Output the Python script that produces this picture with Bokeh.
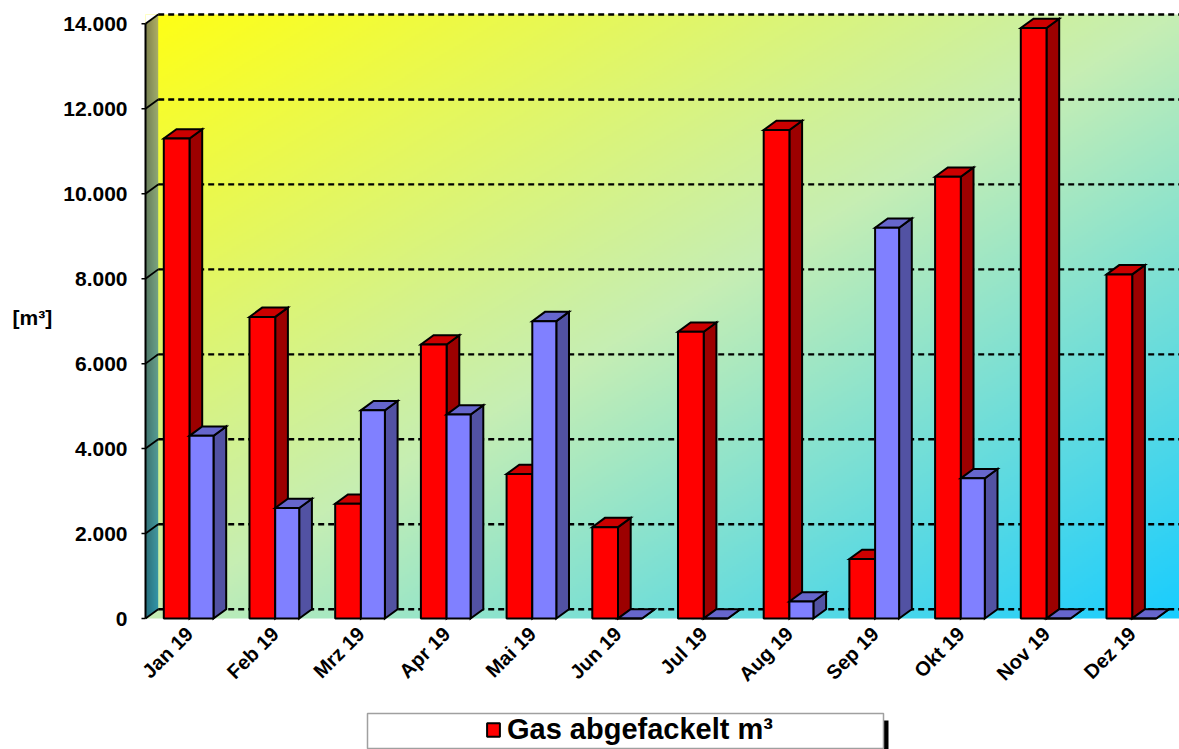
import numpy as np
from bokeh.plotting import figure
from bokeh.models import Range1d, Legend, LegendItem
from bokeh.core.properties import value
from bokeh.embed import file_html
from bokeh.resources import INLINE

# ---- data -------------------------------------------------------------
months = ["Jan 19", "Feb 19", "Mrz 19", "Apr 19", "Mai 19", "Jun 19",
          "Jul 19", "Aug 19", "Sep 19", "Okt 19", "Nov 19", "Dez 19"]
gas_flared = [11300, 7100, 2700, 6450, 3400, 2150, 6750, 11500, 1400, 10400, 13900, 8100]
gas_second = [4300, 2600, 4900, 4800, 7000, 0, 0, 400, 9200, 3300, 0, 0]
y_ticks = [0, 2000, 4000, 6000, 8000, 10000, 12000, 14000]
y_tick_labels = ["0", "2.000", "4.000", "6.000", "8.000", "10.000", "12.000", "14.000"]
legend_label = "Gas abgefackelt m³"
unit_label = "[m³]"

# ---- layout geometry (screen pixels -> data units) ----------------------
W, H = 1179, 749
AXIS_PX = 145                    # screen column of the value axis
PX_PER_CAT = 85.7                # horizontal pixels per month
PX_PER_UNIT = 594.7 / 14000.0    # vertical pixels per m³
ZERO_PY = 618                    # screen row of the value 0 on the front plane
FIRST_CENTER_PX = 189            # screen column of the first month's centre

X_AXIS = 0.5 - (FIRST_CENTER_PX - AXIS_PX) / PX_PER_CAT


def sx(px):
    return X_AXIS + (px - AXIS_PX) / PX_PER_CAT


def sy(py):
    return (ZERO_PY - py) / PX_PER_UNIT


X_START, X_END = sx(0), sx(W)
Y_START, Y_END = sy(H), sy(0)
DX = 12.7 / PX_PER_CAT           # 3D depth offset, x
DY = 9.3 / PX_PER_UNIT           # 3D depth offset, y
Y_TOP = max(y_ticks)

FONT = "Liberation Sans"

p = figure(width=W, height=H, x_range=Range1d(X_START, X_END), y_range=Range1d(Y_START, Y_END),
           output_backend="svg", toolbar_location=None,
           x_axis_location=None, y_axis_location=None,
           min_border_left=0, min_border_right=0, min_border_top=0, min_border_bottom=0)
p.outline_line_color = None
p.grid.visible = False
p.background_fill_color = "white"
p.border_fill_color = "white"

# ---- back wall + floor gradient ----------------------------------------
nx, ny = 520, 304
u = np.linspace(0, 1, nx)[None, :]
v = 1.0 - np.linspace(0, 1, ny)[:, None]   # 0 at top, 1 at bottom
t = (u + v) / 2.0
c_a = np.array([255, 255, 20.0])
c_b = np.array([198, 238, 180.0])
c_c = np.array([25, 205, 255.0])
t1 = np.clip(t / 0.5, 0, 1)[..., None]
t2 = np.clip((t - 0.5) / 0.5, 0, 1)[..., None]
col = np.where((t < 0.5)[..., None], c_a + (c_b - c_a) * t1, c_b + (c_c - c_b) * t2)
img = np.empty((ny, nx), dtype=np.uint32)
view = img.view(dtype=np.uint8).reshape((ny, nx, 4))
view[..., 0] = col[..., 0].astype(np.uint8)
view[..., 1] = col[..., 1].astype(np.uint8)
view[..., 2] = col[..., 2].astype(np.uint8)
view[..., 3] = 255
p.image_rgba(image=[img], x=X_AXIS, y=0, dw=X_END - X_AXIS, dh=Y_TOP + DY)

# ---- left side wall ------------------------------------------------------
sw_nx, sw_ny = 26, 620
su = (np.arange(sw_nx) + 0.5) / sw_nx
syv = (np.arange(sw_ny) + 0.5) / sw_ny * (Y_TOP + DY)
UU, YY = np.meshgrid(su, syv)
bottom_edge = UU * DY
top_edge = Y_TOP + UU * DY
vert = np.clip(YY / Y_TOP, 0, 1)
w_top = np.array([165, 165, 95.0])
w_bot = np.array([45, 140, 160.0])
wcol = w_bot[None, None, :] + (w_top - w_bot)[None, None, :] * vert[..., None]
wcol = wcol * (0.78 + 0.3 * UU)[..., None]
wcol = np.clip(wcol, 0, 255)
simg = np.empty((sw_ny, sw_nx), dtype=np.uint32)
sview = simg.view(dtype=np.uint8).reshape((sw_ny, sw_nx, 4))
sview[..., 0] = wcol[..., 0].astype(np.uint8)
sview[..., 1] = wcol[..., 1].astype(np.uint8)
sview[..., 2] = wcol[..., 2].astype(np.uint8)
sview[..., 3] = 255
sview[YY > top_edge] = [255, 255, 255, 255]
sview[YY < bottom_edge] = [0, 0, 0, 0]
p.image_rgba(image=[simg], x=X_AXIS, y=0, dw=DX, dh=Y_TOP + DY)

# ---- gridlines -----------------------------------------------------------
gy = np.array(y_ticks, dtype=float)
n_t = len(gy)
p.segment(x0=[X_AXIS + DX] * n_t, y0=gy + DY, x1=[X_END] * n_t, y1=gy + DY,
          line_color="black", line_width=2.4, line_dash="6 4")
p.segment(x0=[X_AXIS] * n_t, y0=gy, x1=[X_AXIS + DX] * n_t, y1=gy + DY,
          line_color="black", line_width=1.8)

# ---- value axis ------------------------------------------------------------
TICK = 4 / PX_PER_CAT
p.segment(x0=[X_AXIS], y0=[0], x1=[X_AXIS], y1=[Y_TOP], line_color="black", line_width=2)
p.segment(x0=[X_AXIS - TICK] * n_t, y0=gy, x1=[X_AXIS] * n_t, y1=gy,
          line_color="black", line_width=1.5)
p.text(x=[X_AXIS - 18 / PX_PER_CAT] * n_t, y=gy, text=y_tick_labels,
       text_align="right", text_baseline="middle", text_font=value(FONT),
       text_font_style="bold", text_font_size="21px", text_color="black")
p.text(x=[sx(12)], y=[sy(317)], text=[unit_label], text_align="left",
       text_baseline="middle", text_font=value(FONT), text_font_style="bold",
       text_font_size="21px", text_color="black")

# ---- 3D bars ---------------------------------------------------------------
centers = np.arange(len(months)) + 0.5
RED_W = 0.30
BLUE_W = 0.28
OUT_W = 2


def bar3d(left, right, vals, front, top, side):
    vals = np.asarray(vals, dtype=float)
    side_xs = [[r, r + DX, r + DX, r] for r in right]
    side_ys = [[0, DY, h + DY, h] for h in vals]
    p.patches(side_xs, side_ys, fill_color=side, line_color="black", line_width=OUT_W,
              line_join="miter")
    top_xs = [[l, r, r + DX, l + DX] for l, r in zip(left, right)]
    top_ys = [[h, h, h + DY, h + DY] for h in vals]
    p.patches(top_xs, top_ys, fill_color=top, line_color="black", line_width=OUT_W,
              line_join="miter")
    return p.quad(left=left, right=right, bottom=0, top=vals,
                  fill_color=front, line_color="black", line_width=OUT_W)


red_front = bar3d(centers - RED_W, centers, gas_flared, "#FF0000", "#CC0000", "#9C0000")
bar3d(centers, centers + BLUE_W, gas_second, "#8080FF", "#6666CC", "#5252A3")

# ---- month labels ----------------------------------------------------------
p.text(x=centers, y=[sy(630)] * len(months), text=months, angle=np.pi / 4,
       text_align="right", text_baseline="middle", text_font=value(FONT),
       text_font_style="bold", text_font_size="20px", text_color="black")

# ---- legend ----------------------------------------------------------------
p.quad(left=[sx(883)], right=[sx(888)], bottom=[sy(749)], top=[sy(720)],
       fill_color="black", line_color=None)
p.quad(left=[sx(367)], right=[sx(883)], bottom=[sy(748)], top=[sy(713)],
       fill_color="white", line_color="#A0A0A0", line_width=1.5)
legend = Legend(items=[LegendItem(label=legend_label, renderers=[red_front])],
                location=(485, 3), padding=0, margin=0, spacing=0,
                border_line_color=None, background_fill_alpha=0,
                glyph_width=16, glyph_height=17, label_standoff=6, label_height=30,
                label_text_font=FONT, label_text_font_style="bold",
                label_text_font_size="29px", label_text_color="black")
p.add_layout(legend)

open("out.html", "w").write(file_html(p, INLINE))
